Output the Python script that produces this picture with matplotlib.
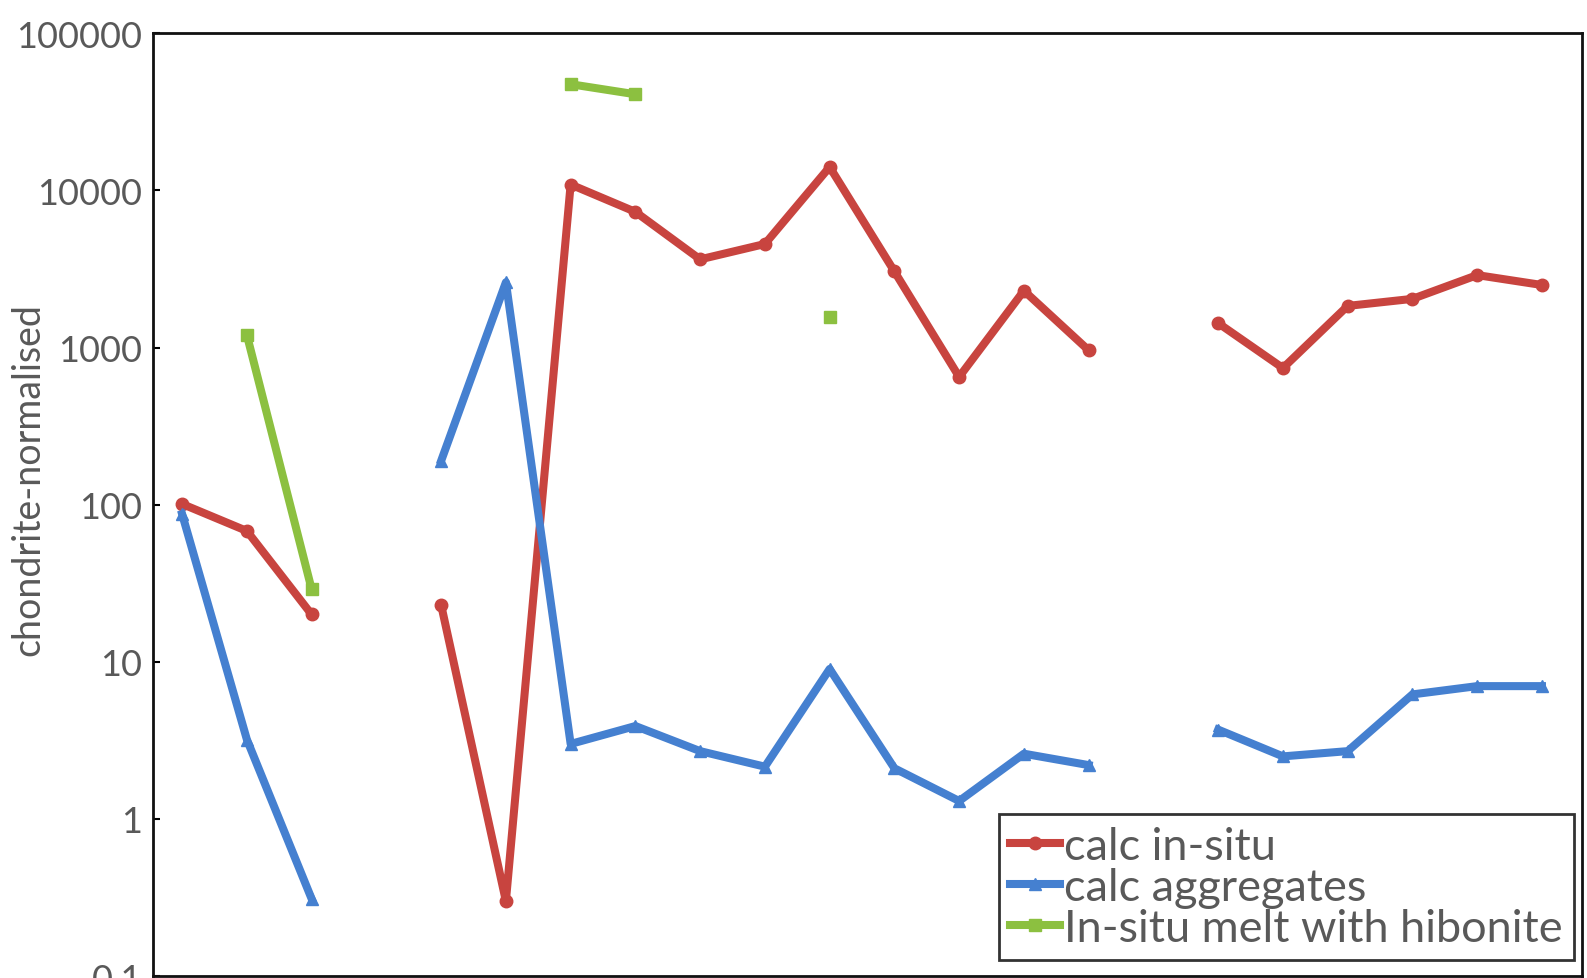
import matplotlib
matplotlib.use("Agg")
import matplotlib.pyplot as plt
import numpy as np

nan = np.nan

# 22 element positions along the x axis (labels not shown)
positions = np.arange(22)

calc_in_situ = [101, 68, 20, nan, 23, 0.30, 10900, 7300, 3640, 4560,
                14100, 3050, 650, 2300, 960, nan, 1430, 740, 1840, 2040,
                2890, 2500]
calc_aggregates = [87, 3.2, 0.31, nan, 190, 2600, 3.0, 3.9, 2.7, 2.15,
                   9.0, 2.1, 1.3, 2.6, 2.2, nan, 3.7, 2.5, 2.7, 6.2,
                   7.0, 7.0]
melt_hibonite = [nan, 1200, 29, nan, nan, nan, 47400, 40900, nan, nan,
                 1560, nan, nan, nan, nan, nan, nan, nan, nan, nan,
                 nan, nan]

y_ticks = [0.1, 1, 10, 100, 1000, 10000, 100000]
y_ticklabels = ["0.1", "1", "10", "100", "1000", "10000", "100000"]

plt.rcParams["font.family"] = ["Lato", "DejaVu Sans"]
text_color = "#595959"

fig = plt.figure(figsize=(15.87, 9.79), dpi=100)
ax = fig.add_axes([0.0964, 0.002, 0.9005, 0.963])

series = [
    (calc_in_situ, "calc in-situ", "#C8443F", "o"),
    (calc_aggregates, "calc aggregates", "#4580D0", "^"),
    (melt_hibonite, "In-situ melt with hibonite", "#8CC040", "s"),
]
for values, label, color, marker in series:
    ax.plot(positions, values, color=color, lw=5.8, marker=marker,
            markersize=9, label=label)

ax.set_yscale("log")
ax.set_ylim(0.1, 100000)
ax.set_xlim(-0.45, 21.62)
ax.set_yticks(y_ticks)
ax.set_yticklabels(y_ticklabels)
ax.minorticks_off()
ax.set_xticks([])
ax.tick_params(axis="y", direction="in", length=5, width=1.5,
               labelsize=26, labelcolor=text_color, pad=8)
for side in ax.spines.values():
    side.set_linewidth(2)
    side.set_color("#111111")

# axis title placed in figure coordinates, left of the tick labels
fig.text(0.018, 0.51, "chondrite-normalised", rotation=90, fontsize=27,
         color=text_color, ha="center", va="center")

leg = ax.legend(loc="lower right", bbox_to_anchor=(0.994, 0.017),
                fontsize=32.5, frameon=True, fancybox=False,
                handlelength=1.1, handletextpad=0.08, labelspacing=0.0,
                borderpad=0.25, borderaxespad=0.0)
leg.get_frame().set_edgecolor("black")
leg.get_frame().set_linewidth(2)
for txt in leg.get_texts():
    txt.set_color(text_color)

fig.savefig("out.png", dpi=100)
